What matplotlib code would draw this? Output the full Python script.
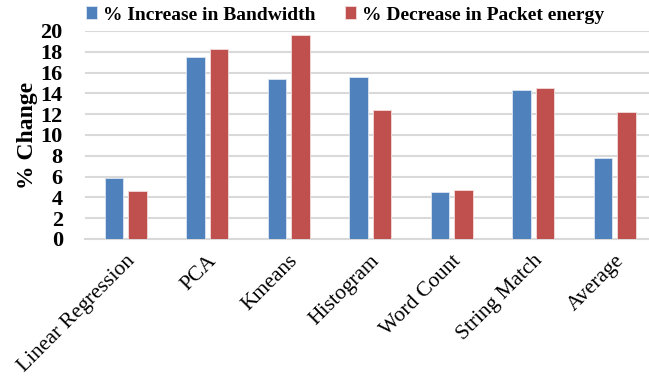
import numpy as np
import matplotlib.pyplot as plt

plt.rcParams['font.family'] = ['Liberation Serif', 'DejaVu Serif']

workloads = ['Linear Regression', 'PCA', 'Kmeans', 'Histogram',
             'Word Count', 'String Match', 'Average']
bandwidth_increase = [5.9, 17.5, 15.4, 15.6, 4.5, 14.3, 7.8]
energy_decrease = [4.6, 18.3, 19.6, 12.4, 4.75, 14.5, 12.2]

blue = '#4F81BD'
red = '#C0504D'
grid_grey = '#D9D9D9'

fig = plt.figure(figsize=(6.49, 3.77), dpi=100)
ax = fig.add_axes([85 / 649, 1 - 239 / 377, 570.5 / 649, 208 / 377])

x = np.arange(len(workloads))
w = 0.227
off = 0.143
ax.bar(x - off, bandwidth_increase, w, color=blue, edgecolor='#DCE6F2',
       linewidth=0.6, label='% Increase in Bandwidth', zorder=3)
ax.bar(x + off, energy_decrease, w, color=red, edgecolor='#F2DCDB',
       linewidth=0.6, label='% Decrease in Packet energy', zorder=3)

ax.set_xlim(-0.5, len(workloads) - 0.5)
ax.set_ylim(0, 20)
ax.set_yticks(np.arange(0, 21, 2))
ax.yaxis.grid(True, color=grid_grey, linewidth=1.5, zorder=0)
ax.set_axisbelow(True)
for s in ['top', 'right', 'left']:
    ax.spines[s].set_visible(False)
ax.spines['bottom'].set_color(grid_grey)
ax.spines['bottom'].set_linewidth(1.5)
ax.tick_params(axis='both', length=0)
ax.tick_params(axis='y', pad=16)
for t in ax.get_yticklabels():
    t.set_fontsize(16)
    t.set_fontweight('bold')

ax.set_xticks(x)
ax.set_xticklabels(workloads, rotation=45, ha='right', rotation_mode='anchor',
                   fontsize=15.5)
ax.tick_params(axis='x', pad=9)

ax.set_ylabel('% Change', fontsize=17, fontweight='bold', labelpad=2)

fig.legend(loc='center', bbox_to_anchor=(345 / 649, 1 - 15 / 377), ncol=2,
           frameon=False, prop={'size': 14, 'weight': 'bold'},
           handlelength=0.6, handleheight=0.6, handletextpad=0.3,
           columnspacing=1.5, borderaxespad=0)

fig.savefig('out.png', dpi=100)
